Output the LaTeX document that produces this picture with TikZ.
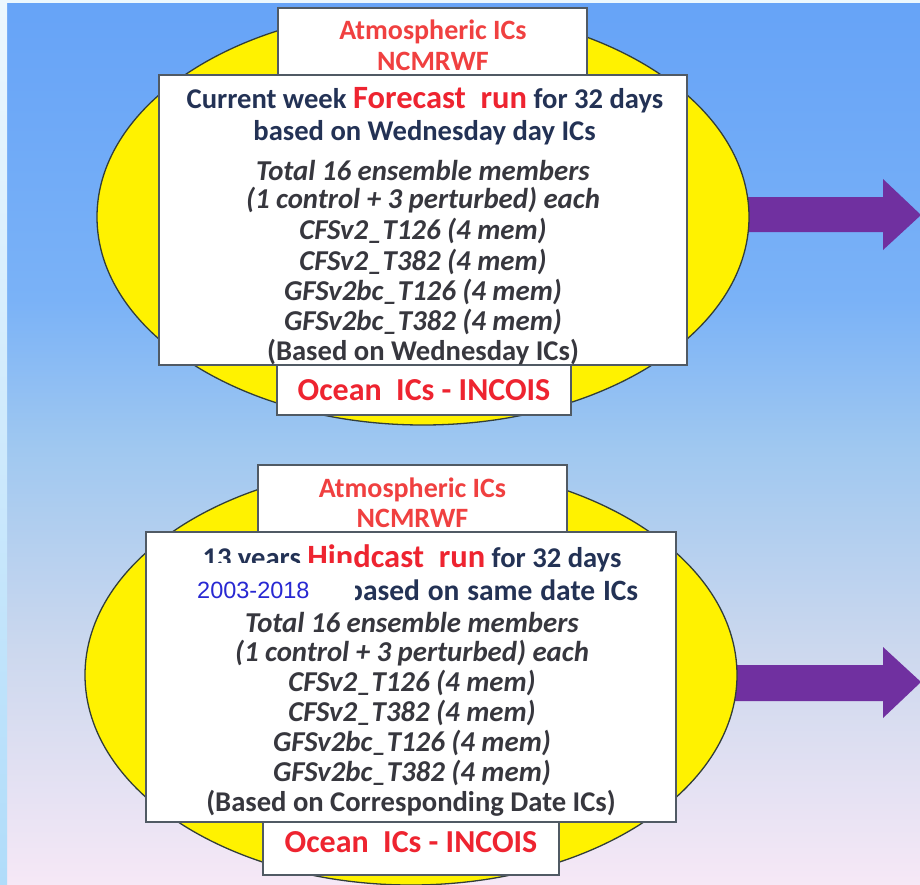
\documentclass[tikz,border=0pt]{standalone}
\usepackage{fontspec}
\setmainfont{Carlito}
\newfontfamily\arialf{Liberation Sans}
\usetikzlibrary{shapes.geometric}
\definecolor{bgtop}{RGB}{102,163,247}
\definecolor{bgA}{RGB}{122,178,247}
\definecolor{bgmid}{RGB}{160,200,240}
\definecolor{bgB}{RGB}{204,216,238}
\definecolor{bgbot}{RGB}{246,232,246}
\definecolor{stripc}{RGB}{236,247,254}
\definecolor{stripb}{RGB}{176,220,250}
\definecolor{navyc}{RGB}{35,50,85}
\definecolor{grayc}{RGB}{55,55,62}
\definecolor{redc}{RGB}{238,36,48}
\definecolor{atmred}{RGB}{240,64,64}
\definecolor{yearblue}{RGB}{40,40,210}
\definecolor{purplec}{RGB}{112,48,160}
\definecolor{boxline}{RGB}{80,90,100}
\definecolor{ellline}{RGB}{50,62,58}
\pgfdeclareverticalshading{bgshade}{100bp}{color(0bp)=(bgbot); color(25bp)=(bgbot); color(38.24bp)=(bgB); color(49.55bp)=(bgmid); color(58.03bp)=(bgA); color(75bp)=(bgtop); color(100bp)=(bgtop)}
\begin{document}
\begin{tikzpicture}[x=1pt,y=-1pt,
  yell/.style={ellipse, draw=ellline, line width=1.3pt, fill=yellow, inner sep=0pt, outer sep=0pt},
  wbox/.style={rectangle, draw=boxline, line width=1.5pt, fill=white, inner sep=0pt, outer sep=0pt},
  atmtext/.style={text=atmred, font=\bfseries\fontsize{28}{30}\selectfont, inner sep=0pt},
  navytext/.style={text=navyc, font=\bfseries\fontsize{28.6}{30}\selectfont, inner sep=0pt},
  ittext/.style={text=grayc, font=\bfseries\itshape\fontsize{28.8}{30}\selectfont, inner sep=0pt},
  uptext/.style={text=grayc, font=\bfseries\fontsize{28.6}{30}\selectfont, inner sep=0pt},
  oceantext/.style={text=redc, font=\bfseries\fontsize{32}{34}\selectfont, inner sep=0pt},
  arrowc/.style={fill=purplec}
]
\useasboundingbox (0,0) rectangle (920,884);
% background
\shade[shading=bgshade] (0,0) rectangle (920,884);
\fill[stripc] (0,0) rectangle (920,3);
\shade[top color=stripc, bottom color=stripb] (0,0) rectangle (7,884);

% arrows (drawn beneath the ellipses)
\coordinate (tipA) at (921,215);
\coordinate (tipB) at (921,682);
\fill[arrowc] (700,197) -- (883,197) -- (883,179) -- (tipA) -- (883,250) -- (883,232) -- (700,232) -- cycle;
\fill[arrowc] (700,665) -- (883,665) -- (883,647) -- (tipB) -- (883,718) -- (883,701) -- (700,701) -- cycle;

% ===== top block =====
\node[yell, minimum width=652pt, minimum height=416pt] (ellA) at (423,217) {};
\node[wbox, minimum width=309pt, minimum height=82pt] (atmA) at (432.5,49) {};
\node[wbox, minimum width=294pt, minimum height=60pt] (oceanA) at (424,385) {};
\node[wbox, minimum width=528pt, minimum height=290pt] (mainA) at (423,220) {};

\node[atmtext] (a1) at (433,32) {Atmospheric ICs};
\node[atmtext] (a2) at (433,61) {NCMRWF};
\node[navytext] (a3) at (425,100) {Current week {\color{redc}\fontsize{32.5}{32}\selectfont Forecast\ \ run} for 32 days};
\node[navytext] (a4) at (424.5,133) {based on Wednesday day ICs};
\node[ittext] (a5) at (423,170) {Total 16 ensemble members};
\node[ittext] (a6) at (423,200) {(1 control + 3 perturbed) each};
\node[ittext] (a7) at (423,231) {CFSv2\_T126 (4 mem)};
\node[ittext] (a8) at (423,262) {CFSv2\_T382 (4 mem)};
\node[ittext] (a9) at (423,292) {GFSv2bc\_T126 (4 mem)};
\node[ittext] (a10) at (423,322) {GFSv2bc\_T382 (4 mem)};
\node[uptext] (a11) at (423,352) {(Based on Wednesday ICs)};
\node[oceantext] (a12) at (424,390) {Ocean\ \ ICs - INCOIS};

% ===== bottom block =====
\node[yell, minimum width=652pt, minimum height=420pt] (ellB) at (411,675) {};
\node[wbox, minimum width=309pt, minimum height=80pt] (atmB) at (412.5,505) {};
\node[wbox, minimum width=296pt, minimum height=60pt] (oceanB) at (411,845) {};
\node[wbox, minimum width=530pt, minimum height=290pt] (mainB) at (411,677) {};

\node[atmtext] (b1) at (412.5,490) {Atmospheric ICs};
\node[atmtext] (b2) at (412.5,518) {NCMRWF};
\node[navytext] (b3) at (412,558) {13 years {\color{redc}\fontsize{32.5}{32}\selectfont Hindcast\ \ run} for 32 days};
\node[navytext, font=\bfseries\fontsize{29.5}{30}\selectfont, anchor=west] (b4) at (347,590) {\makebox[291pt][s]{based on same date ICs}};
\node[ittext] (b5) at (412,622) {Total 16 ensemble members};
\node[ittext] (b6) at (412,653) {(1 control + 3 perturbed) each};
\node[ittext] (b7) at (412,683) {CFSv2\_T126 (4 mem)};
\node[ittext] (b8) at (412,713) {CFSv2\_T382 (4 mem)};
\node[ittext] (b9) at (412,743) {GFSv2bc\_T126 (4 mem)};
\node[ittext] (b10) at (412,773) {GFSv2bc\_T382 (4 mem)};
\node[uptext] (b11) at (411,803) {(Based on Corresponding Date ICs)};
\node[oceantext] (b12) at (411,842) {Ocean\ \ ICs - INCOIS};

% year range label box overlapping the text
\node[fill=white, inner sep=0pt, minimum width=164pt, minimum height=48pt] (yrbox) at (273,587) {};
\node[text=yearblue, font=\arialf\fontsize{23.5}{25}\selectfont, inner sep=0pt, anchor=west] (yr) at (197,590) {2003-2018};
\end{tikzpicture}
\end{document}
